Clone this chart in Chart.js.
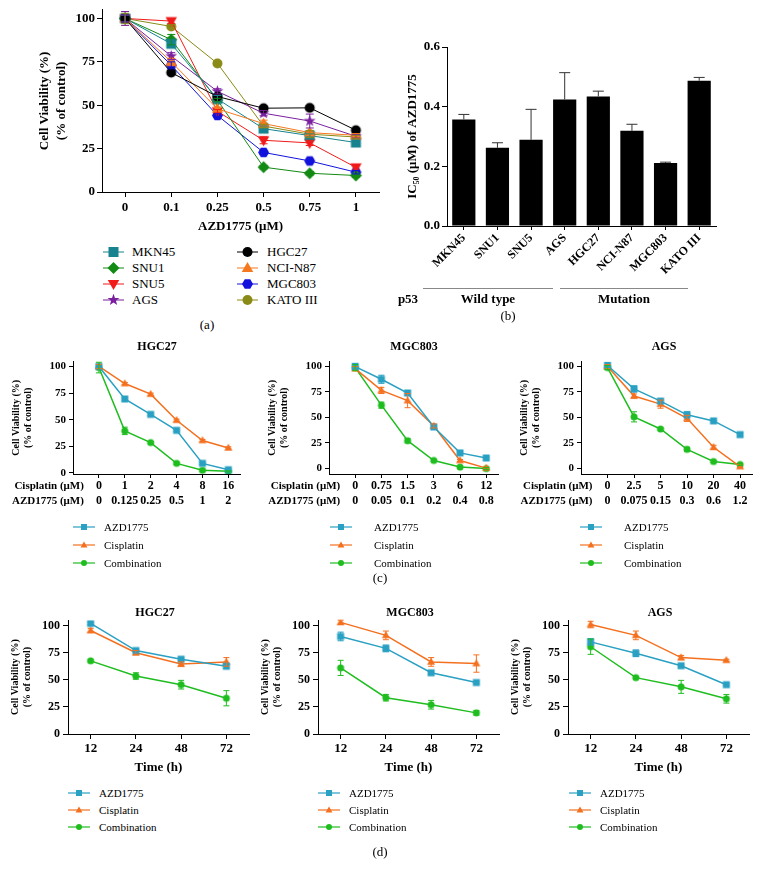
<!DOCTYPE html>
<html>
<head>
<meta charset="utf-8">
<script src="https://cdn.jsdelivr.net/npm/chart.js@4.4.1/dist/chart.umd.min.js"></script>
<style>
  body { margin: 0; background: #fff; }
  #page { position: relative; width: 760px; height: 874px; overflow: hidden; font-family: 'Liberation Serif', 'Times New Roman', serif; color: #000; }
  #page canvas { position: absolute; }
  .t { position: absolute; white-space: nowrap; transform: translate(-50%, -50%); }
  .l { position: absolute; white-space: nowrap; transform: translateY(-50%); }
</style>
</head>
<body>
<div id="page"></div>
<script>
// ---- (a) viability vs AZD1775 dose, 8 cell lines
const doseA = ['0', '0.1', '0.25', '0.5', '0.75', '1'];
const mkn45 = [100, 85.4, 53.6, 36.5, 32.5, 28.5];
const snu1 = [100, 87.8, 53, 14.3, 10.8, 9.5];
const snu5 = [100, 98.5, 46.5, 29.8, 28.3, 14.2];
const ags = [100, 78.3, 58, 45.4, 40.9, 32.1];
const hgc27 = [100, 68.8, 55, 48.3, 48.5, 35.6];
const nciN87 = [100, 75, 47.9, 39.4, 34.2, 32.7];
const mgc803 = [100, 73, 44.1, 22.8, 17.9, 11.4];
const kato3 = [100, 95.4, 74.1, 38, 33.3, 31.7];
const mkn45Err = [2, 2, 2, 1.5, 1, 1];
const snu1Err = [2, 3, 1, 1, 1, 1];
const snu5Err = [2, 1.5, 1, 2, 1.5, 1.5];
const agsErr = [4, 2, 1.5, 1.5, 4, 1];
const hgc27Err = [2, 1, 1, 1, 1, 1];
const nciN87Err = [2, 2, 1, 2, 1, 1];
const mgc803Err = [2, 2, 1, 1, 1, 1];
const kato3Err = [3, 1, 1, 1, 2, 1];
const pctTicks = [0, 25, 50, 75, 100];

// ---- (b) IC50
const cellLines = ['MKN45', 'SNU1', 'SNU5', 'AGS', 'HGC27', 'NCI-N87', 'MGC803', 'KATO III'];
const ic50 = [0.357, 0.262, 0.289, 0.424, 0.434, 0.319, 0.211, 0.487];
const ic50Err = [0.017, 0.017, 0.102, 0.09, 0.018, 0.022, 0.003, 0.011];
const ic50Ticks = [0, 0.2, 0.4, 0.6];

// ---- (c) combination dose response
const cisHgc = ['0', '1', '2', '4', '8', '16'];
const azdHgc = ['0', '0.125', '0.25', '0.5', '1', '2'];
const cHgcAzd = [100, 69.5, 55, 40, 9, 3];
const cHgcCis = [100, 84, 74, 49.5, 30.5, 23.5];
const cHgcComb = [99, 39.5, 28.5, 9, 2.5, 1.5];
const cHgcAzdErr = [2, 1, 1, 1, 1, 1];
const cHgcCisErr = [2, 1, 1, 1, 1, 1];
const cHgcCombErr = [5, 3.5, 1, 1, 1, 0.5];

const cisMgc = ['0', '0.75', '1.5', '3', '6', '12'];
const azdMgc = ['0', '0.05', '0.1', '0.2', '0.4', '0.8'];
const cMgcAzd = [100, 87.5, 74, 40.5, 15, 10];
const cMgcCis = [98, 76.5, 66.5, 41.5, 7.5, 0];
const cMgcComb = [99, 62, 27, 7.5, 1, -0.5];
const cMgcAzdErr = [3, 4, 2, 2, 1, 1];
const cMgcCisErr = [2, 3, 7, 2, 1, 1];
const cMgcCombErr = [3, 3, 2, 1, 1, 1];

const cisAgs = ['0', '2.5', '5', '10', '20', '40'];
const azdAgs = ['0', '0.075', '0.15', '0.3', '0.6', '1.2'];
const cAgsAzd = [101, 78, 66, 52.5, 46.5, 33];
const cAgsCis = [100, 71, 63, 49, 20.5, 1.5];
const cAgsComb = [99, 50.5, 38.5, 18.5, 6.5, 3.5];
const cAgsAzdErr = [3, 3, 2, 3, 1, 2];
const cAgsCisErr = [2, 2, 4, 3, 2, 1];
const cAgsCombErr = [2, 5, 1, 2, 1, 1];

// ---- (d) time course
const hours = ['12', '24', '48', '72'];
const dHgcAzd = [102, 77, 69, 62.5];
const dHgcCis = [95.5, 75, 64.5, 66.5];
const dHgcComb = [67.5, 53.5, 45.5, 33];
const dHgcAzdErr = [1, 1, 1, 2];
const dHgcCisErr = [2, 2, 2, 4];
const dHgcCombErr = [1, 3, 4, 7];

const dMgcAzd = [90, 79, 56.5, 47.5];
const dMgcCis = [103, 91, 66.5, 65];
const dMgcComb = [61, 33.5, 27, 19.5];
const dMgcAzdErr = [4, 3, 1, 1];
const dMgcCisErr = [2, 4, 4, 8];
const dMgcCombErr = [7, 3, 4, 2];

const dAgsAzd = [85, 74.5, 63, 45.5];
const dAgsCis = [101, 91, 70.5, 68];
const dAgsComb = [80.5, 52, 43.5, 32.5];
const dAgsAzdErr = [3, 3, 1, 1];
const dAgsCisErr = [3, 4, 2, 1];
const dAgsCombErr = [7, 1, 6, 4];

const TEAL = '#2aa0c2', ORANGE = '#f4701f', GREEN = '#1fbd1f';
const SERIF = "'Liberation Serif', 'Times New Roman', serif";
Chart.defaults.font.family = SERIF;
Chart.defaults.color = '#000';

const page = document.getElementById('page');

function addCanvas(x, y, w, h) {
  const c = document.createElement('canvas');
  c.width = w; c.height = h;
  c.style.left = x + 'px'; c.style.top = y + 'px';
  c.style.width = w + 'px'; c.style.height = h + 'px';
  page.appendChild(c);
  return c;
}

function addText(html, x, y, css, cls) {
  const d = document.createElement('div');
  d.className = cls || 't';
  d.style.cssText = 'left:' + x + 'px;top:' + y + 'px;' + (css || '');
  d.innerHTML = html;
  page.appendChild(d);
}

function drawMarker(g, style, x, y, r, color) {
  g.fillStyle = color;
  g.beginPath();
  if (style === 'rect') {
    g.rect(x - r, y - r, 2 * r, 2 * r);
  } else if (style === 'diamond') {
    g.moveTo(x, y - r * 1.2); g.lineTo(x + r * 1.2, y); g.lineTo(x, y + r * 1.2); g.lineTo(x - r * 1.2, y);
  } else if (style === 'tri' || style === 'triDown') {
    const s = style === 'tri' ? 1 : -1;
    g.moveTo(x, y - s * r * 1.2); g.lineTo(x + r * 1.15, y + s * r * 0.8); g.lineTo(x - r * 1.15, y + s * r * 0.8);
  } else if (style === 'star') {
    for (let k = 0; k < 10; k++) {
      const rr = k % 2 ? r * 0.5 : r * 1.25;
      const a = -Math.PI / 2 + k * Math.PI / 5;
      g.lineTo(x + rr * Math.cos(a), y + rr * Math.sin(a));
    }
  } else if (style === 'hex') {
    for (let k = 0; k < 6; k++) {
      const a = k * Math.PI / 3;
      g.lineTo(x + r * 1.1 * Math.cos(a), y + r * 1.1 * Math.sin(a));
    }
  } else {
    g.arc(x, y, r, 0, 2 * Math.PI);
  }
  g.closePath();
  g.fill();
}

function markerImage(style, r, color) {
  const s = Math.ceil(r * 2.6 + 2);
  const c = document.createElement('canvas');
  c.width = c.height = s;
  drawMarker(c.getContext('2d'), style, s / 2, s / 2, r, color);
  return c;
}

function legendEntry(x0, x1, y, style, r, color, label, tx, size, lw) {
  const w = x1 - x0 + 8;
  const c = addCanvas(x0 - 4, y - 8, w, 16);
  const g = c.getContext('2d');
  g.strokeStyle = color; g.lineWidth = lw;
  g.beginPath(); g.moveTo(4, 8); g.lineTo(w - 4, 8); g.stroke();
  drawMarker(g, style, w / 2, 8, r, color);
  addText(label, tx, y, 'font-size:' + size + 'px;', 'l');
}

// error bars from the dataset's err array, placed with the chart's own scales
const errorBars = {
  id: 'errorBars',
  afterDatasetsDraw(chart) {
    const g = chart.ctx, ys = chart.scales.y;
    chart.data.datasets.forEach((ds, i) => {
      if (!ds.err) return;
      const meta = chart.getDatasetMeta(i);
      g.save();
      g.strokeStyle = ds.errColor || ds.borderColor;
      g.lineWidth = 1;
      meta.data.forEach((el, j) => {
        const e = ds.err[j];
        if (!e) return;
        const v = ds.data[j];
        const top = ys.getPixelForValue(v + e);
        const bot = ys.getPixelForValue(ds.upOnly ? v : v - e);
        const cw = ds.capW || 3;
        g.beginPath();
        g.moveTo(el.x, top); g.lineTo(el.x, bot);
        g.moveTo(el.x - cw, top); g.lineTo(el.x + cw, top);
        if (!ds.upOnly) { g.moveTo(el.x - cw, bot); g.lineTo(el.x + cw, bot); }
        g.stroke();
      });
      g.restore();
    });
  }
};

function axisGrid(len) {
  return { display: true, drawOnChartArea: false, drawTicks: true, tickLength: len, color: '#000', tickColor: '#000', offset: false };
}

function lineChart(box, area, cfg) {
  const cv = addCanvas(box.x, box.y, box.w, box.h);
  return new Chart(cv, {
    type: 'line',
    data: {
      labels: cfg.labels,
      datasets: cfg.series.map(s => ({
        label: s.name, data: s.data, err: s.err,
        borderColor: s.color, backgroundColor: s.color, borderWidth: cfg.lw,
        pointStyle: markerImage(s.marker, cfg.r, s.color), pointRadius: cfg.r, pointHoverRadius: cfg.r,
        tension: 0, capW: cfg.capW
      }))
    },
    options: {
      responsive: false, animation: false, devicePixelRatio: 1,
      events: [],
      layout: { padding: { top: area.t - box.y, right: box.x + box.w - area.r, left: 0, bottom: 0 } },
      plugins: { legend: { display: false }, tooltip: { enabled: false } },
      scales: {
        x: Object.assign({
          grid: axisGrid(cfg.xTick), border: { display: true, color: '#000', width: 1 },
          afterFit: s => { s.height = box.y + box.h - area.b; }
        }, cfg.x),
        y: Object.assign({
          min: cfg.yMin, max: cfg.yMax,
          grid: axisGrid(cfg.yTick), border: { display: true, color: '#000', width: 1 },
          afterBuildTicks: s => { s.ticks = pctTicks.map(v => ({ value: v })); },
          afterFit: s => { s.width = area.l - box.x; }
        }, cfg.y)
      }
    },
    plugins: [errorBars]
  });
}

// ================= (a)
lineChart({ x: 0, y: 0, w: 385, h: 240 }, { l: 102, r: 379, t: 8, b: 192 }, {
  labels: doseA, lw: 1, r: 5, capW: 4, xTick: 5, yTick: 5, yMin: 0, yMax: 105,
  series: [
    { name: 'HGC27', data: hgc27, err: hgc27Err, color: '#000000', marker: 'circle' },
    { name: 'NCI-N87', data: nciN87, err: nciN87Err, color: '#f5781f', marker: 'tri' },
    { name: 'MKN45', data: mkn45, err: mkn45Err, color: '#16838f', marker: 'rect' },
    { name: 'SNU1', data: snu1, err: snu1Err, color: '#138a13', marker: 'diamond' },
    { name: 'SNU5', data: snu5, err: snu5Err, color: '#f01a1a', marker: 'triDown' },
    { name: 'AGS', data: ags, err: agsErr, color: '#7a1f9e', marker: 'star' },
    { name: 'MGC803', data: mgc803, err: mgc803Err, color: '#1212dc', marker: 'hex' },
    { name: 'KATO III', data: kato3, err: kato3Err, color: '#8a8a16', marker: 'circle' }
  ],
  x: {
    offset: true,
    ticks: { font: { size: 13, weight: 'bold' }, padding: 3 },
    title: { display: true, text: 'AZD1775 (\u03bcM)', font: { size: 13, weight: 'bold', lineHeight: 1.3 }, padding: { top: 0, bottom: 5 } }
  },
  y: {
    ticks: { font: { size: 13, weight: 'bold' }, padding: 2 },
    title: { display: true, text: ['Cell Viability (%)', '(% of control)'], font: { size: 13, weight: 'bold', lineHeight: 1.3 }, padding: { top: 36, bottom: 0 } }
  }
});

const legA = [
  ['MKN45', 'rect', '#16838f', 0, 0], ['SNU1', 'diamond', '#138a13', 0, 1], ['SNU5', 'triDown', '#f01a1a', 0, 2], ['AGS', 'star', '#7a1f9e', 0, 3],
  ['HGC27', 'circle', '#000000', 1, 0], ['NCI-N87', 'tri', '#f5781f', 1, 1], ['MGC803', 'hex', '#1212dc', 1, 2], ['KATO III', 'circle', '#8a8a16', 1, 3]
];
legA.forEach(([name, mk, col, c, r]) => {
  const x0 = c ? 237 : 103;
  legendEntry(x0, x0 + 21, 252 + r * 16, mk, 5, col, name, c ? 267 : 132, 13, 1);
});
addText('(a)', 207, 325, 'font-size:13px;');

// ================= (b)
new Chart(addCanvas(380, 0, 345, 282), {
  type: 'bar',
  data: {
    labels: cellLines,
    datasets: [{
      data: ic50, err: ic50Err, upOnly: true, capW: 5.5, errColor: '#333',
      backgroundColor: '#000', borderWidth: 0, barPercentage: 0.69, categoryPercentage: 1
    }]
  },
  options: {
    responsive: false, animation: false, devicePixelRatio: 1, events: [],
    layout: { padding: { top: 47, right: 9, left: 0, bottom: 0 } },
    plugins: { legend: { display: false }, tooltip: { enabled: false } },
    scales: {
      x: {
        grid: axisGrid(4), border: { display: true, color: '#000' },
        ticks: { minRotation: 45, maxRotation: 45, font: { size: 12, weight: 'bold' }, padding: 1 },
        afterFit: s => { s.height = 56; }
      },
      y: {
        min: 0, max: 0.6,
        grid: axisGrid(5), border: { display: true, color: '#000' },
        afterBuildTicks: s => { s.ticks = ic50Ticks.map(v => ({ value: v })); },
        ticks: { font: { size: 13, weight: 'bold' }, padding: 2, callback: v => v.toFixed(1) },
        title: { display: true, text: 'IC\u2085\u2080 (\u03bcM) of AZD1775', font: { size: 13, weight: 'bold' }, padding: { top: 25, bottom: 0 } },
        afterFit: s => { s.width = 67; }
      }
    }
  },
  plugins: [errorBars]
});

function hline(x0, x1, y, color) {
  const d = document.createElement('div');
  d.style.cssText = 'position:absolute;left:' + x0 + 'px;top:' + y + 'px;width:' + (x1 - x0) + 'px;height:1px;background:' + color + ';';
  page.appendChild(d);
}
hline(423, 553, 288, '#888');
hline(560, 688, 288, '#888');
addText('p53', 408, 299, 'font-size:13px;font-weight:bold;');
addText('Wild type', 488, 299, 'font-size:13px;font-weight:bold;');
addText('Mutation', 624, 299, 'font-size:13px;font-weight:bold;');
addText('(b)', 508, 316, 'font-size:13px;');

// ================= (c)
const trio = (azd, cis, comb, azdErr, cisErr, combErr) => [
  { name: 'AZD1775', data: azd, err: azdErr, color: TEAL, marker: 'rect' },
  { name: 'Cisplatin', data: cis, err: cisErr, color: ORANGE, marker: 'tri' },
  { name: 'Combination', data: comb, err: combErr, color: GREEN, marker: 'circle' }
];

function comboPanel(bx, l, r, yMin, yMax, cis, azd, series, title, titleX) {
  const idx = cis.map((_, i) => i);
  const ch = lineChart({ x: bx, y: 352, w: r - bx + 6, h: 160 }, { l: l, r: r, t: 360, b: 474 }, {
    labels: idx, lw: 1.5, r: 3.5, capW: 3, xTick: 4, yTick: 4, yMin: yMin, yMax: yMax,
    series: series,
    x: {
      type: 'linear', min: -1, max: 5.45,
      afterBuildTicks: s => { s.ticks = idx.map(v => ({ value: v })); },
      ticks: { font: { size: 12, weight: 'bold', lineHeight: 1.25 }, padding: 0, maxRotation: 0, callback: v => [cis[v], azd[v]] }
    },
    y: {
      ticks: { font: { size: 11, weight: 'bold' }, padding: 3 },
      title: { display: true, text: ['Cell Viability (%)', '(% of control)'], font: { size: 10, weight: 'bold', lineHeight: 1.15 }, padding: { top: l - bx - 62, bottom: 0 } }
    }
  });
  // row captions sit just left of the first dose column
  const rowEnd = bx + ch.scales.x.getPixelForValue(0) - 15;
  addText(title, titleX, 346, 'font-size:12px;font-weight:bold;');
  addText('Cisplatin (\u03bcM)', rowEnd, 485, 'font-size:11px;font-weight:bold;transform:translate(-100%,-50%);', 'l');
  addText('AZD1775 (\u03bcM)', rowEnd, 500, 'font-size:11px;font-weight:bold;transform:translate(-100%,-50%);', 'l');
}

comboPanel(0, 73, 240, -1, 104.6, cisHgc, azdHgc, trio(cHgcAzd, cHgcCis, cHgcComb, cHgcAzdErr, cHgcCisErr, cHgcCombErr), 'HGC27', 157);
comboPanel(250, 329, 498, -5.8, 104.9, cisMgc, azdMgc, trio(cMgcAzd, cMgcCis, cMgcComb, cMgcAzdErr, cMgcCisErr, cMgcCombErr), 'MGC803', 414);
comboPanel(500, 581, 752, -5.8, 104.9, cisAgs, azdAgs, trio(cAgsAzd, cAgsCis, cAgsComb, cAgsAzdErr, cAgsCisErr, cAgsCombErr), 'AGS', 664);

const legCD = [['AZD1775', 'rect', TEAL], ['Cisplatin', 'tri', ORANGE], ['Combination', 'circle', GREEN]];
[[73, 104], [330, 374], [580, 624]].forEach(([x0, tx]) => {
  legCD.forEach(([name, mk, col], i) => legendEntry(x0, x0 + 22, 527 + i * 18, mk, 3, col, name, tx, 11, 1.2));
});
addText('(c)', 380, 578, 'font-size:13px;');

// ================= (d)
function timePanel(bx, l, r, series, title, titleX) {
  lineChart({ x: bx, y: 610, w: r - bx + 6, h: 170 }, { l: l, r: r, t: 614, b: 734 }, {
    labels: hours, lw: 1.5, r: 3.5, capW: 3, xTick: 5, yTick: 5, yMin: 0, yMax: 105,
    series: series,
    x: {
      offset: true,
      ticks: { font: { size: 13, weight: 'bold' }, padding: 2 },
      title: { display: true, text: 'Time (h)', font: { size: 13, weight: 'bold' }, padding: { top: 0, bottom: 5 } }
    },
    y: {
      ticks: { font: { size: 12, weight: 'bold' }, padding: 3 },
      title: { display: true, text: ['Cell Viability (%)', '(% of control)'], font: { size: 10, weight: 'bold', lineHeight: 1.15 }, padding: { top: l - bx - 58, bottom: 0 } }
    }
  });
  addText(title, titleX, 612, 'font-size:12px;font-weight:bold;');
}

timePanel(0, 68, 249, trio(dHgcAzd, dHgcCis, dHgcComb, dHgcAzdErr, dHgcCisErr, dHgcCombErr), 'HGC27', 155);
timePanel(250, 318, 499, trio(dMgcAzd, dMgcCis, dMgcComb, dMgcAzdErr, dMgcCisErr, dMgcCombErr), 'MGC803', 410);
timePanel(500, 568, 749, trio(dAgsAzd, dAgsCis, dAgsComb, dAgsAzdErr, dAgsCisErr, dAgsCombErr), 'AGS', 660);

[[68, 99], [318, 349], [569, 600]].forEach(([x0, tx]) => {
  legCD.forEach(([name, mk, col], i) => legendEntry(x0, x0 + 22, 793 + i * 17, mk, 3, col, name, tx, 11, 1.2));
});
addText('(d)', 380, 852, 'font-size:13px;');
</script>
</body>
</html>
